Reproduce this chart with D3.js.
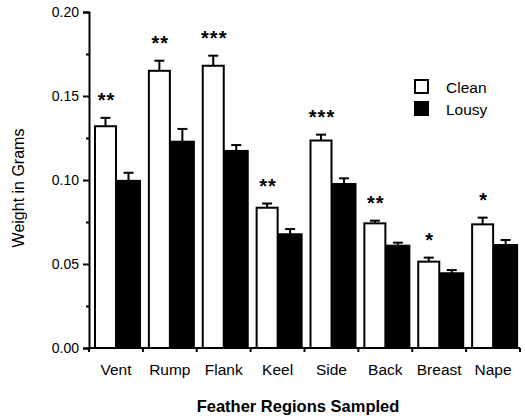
<!DOCTYPE html>
<html>
<head>
<meta charset="utf-8">
<script src="https://cdn.jsdelivr.net/npm/d3@7"></script>
<style>
  body { margin: 0; background: #fff; }
  text { font-family: "Liberation Sans", Arial, Helvetica, sans-serif; fill: #000; }
</style>
</head>
<body>
<div id="chart-area"></div>
<script>
// data
const regions = ["Vent", "Rump", "Flank", "Keel", "Side", "Back", "Breast", "Nape"]
const groups = ["Clean", "Lousy"]
const cleanMean = [0.132, 0.165, 0.168, 0.0835, 0.1235, 0.0742, 0.0514, 0.0736]
const cleanErr = [0.137, 0.171, 0.174, 0.086, 0.127, 0.0758, 0.0538, 0.0776]
const lousyMean = [0.0995, 0.1228, 0.1173, 0.0677, 0.0976, 0.0609, 0.0445, 0.0613]
const lousyErr = [0.1043, 0.1304, 0.1208, 0.0708, 0.101, 0.0627, 0.0464, 0.0643]
const stars = ["**", "**", "***", "**", "***", "**", "*", "*"]
const yTicks = [0, 0.05, 0.10, 0.15, 0.20]
const yMinorTicks = [0.025, 0.075, 0.125, 0.175]

const W = 525, H = 416
const LEFT = 89, RIGHT = 520, TOP = 12, BOTTOM = 348

const svg = d3.select("#chart-area").append("svg")
  .attr("width", W)
  .attr("height", H)

const x = d3.scaleBand()
  .domain(regions)
  .range([LEFT, RIGHT])

const xSub = d3.scaleBand()
  .domain(groups)
  .range([5, 51])

const y = d3.scaleLinear()
  .domain([0, 0.2])
  .range([BOTTOM, TOP])

// build rows for bars
const rows = []
regions.forEach((r, i) => {
  rows.push({region: r, group: "Clean", mean: cleanMean[i], err: cleanErr[i]})
  rows.push({region: r, group: "Lousy", mean: lousyMean[i], err: lousyErr[i]})
})

// error bars (drawn first, bars cover the lower part)
const eb = svg.append("g").attr("stroke", "#000").attr("stroke-width", 2)
rows.forEach(d => {
  const cx = x(d.region) + xSub(d.group) + xSub.bandwidth() / 2
  eb.append("line")
    .attr("x1", cx).attr("x2", cx)
    .attr("y1", y(d.mean)).attr("y2", y(d.err))
  eb.append("line")
    .attr("x1", cx - 5).attr("x2", cx + 5)
    .attr("y1", y(d.err)).attr("y2", y(d.err))
})

// bars
svg.append("g").selectAll("rect")
  .data(rows)
  .enter().append("rect")
  .attr("x", d => x(d.region) + xSub(d.group) + (d.group == "Clean" ? 1 : 0))
  .attr("y", d => y(d.mean))
  .attr("width", d => xSub.bandwidth() - (d.group == "Clean" ? 2 : 0))
  .attr("height", d => BOTTOM - y(d.mean))
  .attr("fill", d => d.group == "Clean" ? "#fff" : "#000")
  .attr("stroke", "#000")
  .attr("stroke-width", 2)

// significance stars over the clean bars
svg.append("g").selectAll("text")
  .data(regions)
  .enter().append("text")
  .attr("x", (d, i) => x(d) + xSub("Clean") + xSub.bandwidth() / 2 + 1)
  .attr("y", (d, i) => y(cleanErr[i]) - 11)
  .attr("text-anchor", "middle")
  .attr("font-size", "20px")
  .attr("font-weight", "bold")
  .attr("letter-spacing", "1px")
  .text((d, i) => stars[i])

// y axis
const yAxis = svg.append("g")
  .attr("transform", `translate(${LEFT}, 0)`)
  .call(d3.axisLeft(y).tickValues(yTicks).tickFormat(d3.format(".2f")).tickSizeOuter(0).tickSize(6).tickPadding(4))
yAxis.select(".domain").attr("stroke-width", 2)
yAxis.selectAll(".tick line").attr("stroke-width", 2)
yAxis.selectAll("text").attr("font-size", "14px").attr("font-family", "Liberation Sans, Arial, sans-serif")

const yMinor = svg.append("g")
  .attr("transform", `translate(${LEFT}, 0)`)
  .call(d3.axisLeft(y).tickValues(yMinorTicks).tickFormat("").tickSizeOuter(0).tickSize(3))
yMinor.select(".domain").remove()
yMinor.selectAll(".tick line").attr("stroke-width", 2)

// x axis, ticks between the groups
const xEdges = regions.map(r => x(r)).concat([RIGHT])
const xAxis = svg.append("g")
xAxis.append("line")
  .attr("x1", LEFT - 1).attr("x2", RIGHT)
  .attr("y1", BOTTOM).attr("y2", BOTTOM)
  .attr("stroke", "#000").attr("stroke-width", 2)
xAxis.selectAll(".xt")
  .data(xEdges)
  .enter().append("line")
  .attr("x1", d => d).attr("x2", d => d)
  .attr("y1", BOTTOM).attr("y2", BOTTOM + 4)
  .attr("stroke", "#000").attr("stroke-width", 2)
xAxis.selectAll("text")
  .data(regions)
  .enter().append("text")
  .attr("x", d => x(d) + x.bandwidth() / 2)
  .attr("y", 375)
  .attr("text-anchor", "middle")
  .attr("font-size", "15.5px")
  .text(d => d)

// axis titles
svg.append("text")
  .attr("x", 298)
  .attr("y", 412)
  .attr("text-anchor", "middle")
  .attr("font-size", "16.5px")
  .attr("font-weight", "bold")
  .text("Feather Regions Sampled")

svg.append("text")
  .attr("transform", "translate(24, 188) rotate(-90)")
  .attr("text-anchor", "middle")
  .attr("font-size", "16px")
  .text("Weight in Grams")

// legend
const legend = svg.append("g").attr("transform", "translate(414, 79)")
groups.forEach((g, i) => {
  legend.append("rect")
    .attr("x", 1).attr("y", i * 22 + 1)
    .attr("width", 13).attr("height", 13)
    .attr("fill", g == "Clean" ? "#fff" : "#000")
    .attr("stroke", "#000").attr("stroke-width", 2)
  legend.append("text")
    .attr("x", 32).attr("y", i * 22 + 14)
    .attr("font-size", "15.5px")
    .text(g)
})
</script>
</body>
</html>
